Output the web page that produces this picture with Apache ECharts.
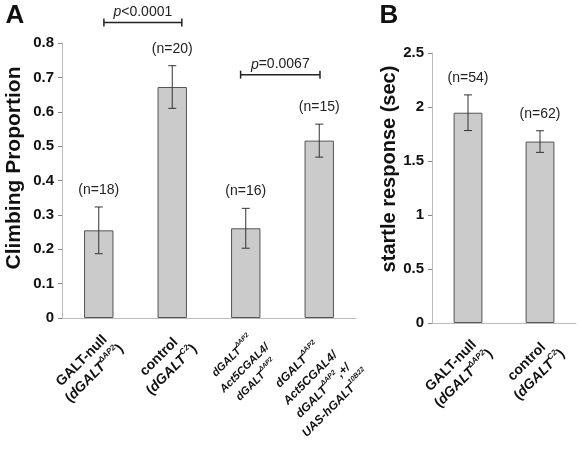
<!DOCTYPE html>
<html><head><meta charset="utf-8">
<script src="https://cdn.jsdelivr.net/npm/echarts@6/dist/echarts.min.js"></script>
<style>html,body{margin:0;padding:0;background:#fff}#c{width:582px;height:452px}</style>
</head><body><div id="c"></div>
<script>
// ---------- data ----------
const categoriesA = [
  '{n|GALT-null}\n{n|(}{i|dGALT}{s|ΔAP2}{n|)}',
  '{n|control}\n{n|(}{i|dGALT}{s|C2}{n|)}',
  '{k|dGALT}{ks|ΔAP2}\n{k|Act5CGAL4/}\n{k|dGALT}{ks|ΔAP2}',
  '{m|dGALT}{ms|ΔAP2}\n{m|Act5CGAL4/}\n{m|dGALT}{ms|ΔAP2}{m|,+/}\n{m|UAS-hGALT}{ms|10B22}'
];
const meansA = [0.255, 0.672, 0.261, 0.516];
const errorsA = [0.068, 0.062, 0.058, 0.048];
const nLabelsA = ['(n=18)', '(n=20)', '(n=16)', '(n=15)'];
const yTicksA = ['0', '0.1', '0.2', '0.3', '0.4', '0.5', '0.6', '0.7', '0.8'];

const categoriesB = [
  '{n|GALT-null}\n{n|(}{i|dGALT}{s|ΔAP2}{n|)}',
  '{n|control}\n{n|(}{i|dGALT}{s|C2}{n|)}'
];
const meansB = [1.947, 1.68];
const errorsB = [0.165, 0.10];
const nLabelsB = ['(n=54)', '(n=62)'];
const yTicksB = ['0', '0.5', '1', '1.5', '2', '2.5'];

// significance brackets: [fromCategory, level, toCategory]
const bracketsA = [[0, 0.86, 1], [2, 0.708, 3]];
const bracketTextsA = ['p<0.0001', 'p=0.0067'];

// ---------- styling ----------
const FF = '"Liberation Sans", Arial, Helvetica, sans-serif';
const TXT = '#111';
const bracketOffsets = [[0.07, 0.13], [-0.07, 0.01]];

const rich = {
  n: {fontFamily: FF, fontWeight: 'bold', fontSize: 14, lineHeight: 18, align: 'center', color: TXT},
  i: {fontFamily: FF, fontWeight: 'bold', fontStyle: 'italic', fontSize: 14, lineHeight: 18, align: 'center', color: TXT},
  s: {fontFamily: FF, fontWeight: 'bold', fontStyle: 'italic', fontSize: 8, lineHeight: 10, verticalAlign: 'top', align: 'center', color: TXT},
  m: {fontFamily: FF, fontWeight: 'bold', fontStyle: 'italic', fontSize: 12, lineHeight: 18, align: 'center', color: TXT},
  ms: {fontFamily: FF, fontWeight: 'bold', fontStyle: 'italic', fontSize: 7, lineHeight: 9, verticalAlign: 'top', align: 'center', color: TXT},
  k: {fontFamily: FF, fontWeight: 'bold', fontStyle: 'italic', fontSize: 11, lineHeight: 17, align: 'center', color: TXT},
  ks: {fontFamily: FF, fontWeight: 'bold', fontStyle: 'italic', fontSize: 6.5, lineHeight: 8, verticalAlign: 'top', align: 'center', color: TXT}
};

function errorRenderer(nLabels) {
  return function (params, api) {
    const i = api.value(0), m = api.value(1), e = api.value(2);
    const top = api.coord([i, m + e]);
    const bot = api.coord([i, m - e]);
    const hw = 4;
    const st = {stroke: '#333', lineWidth: 1};
    return {
      type: 'group',
      children: [
        {type: 'line', shape: {x1: top[0], y1: top[1], x2: bot[0], y2: bot[1]}, style: st},
        {type: 'line', shape: {x1: top[0] - hw, y1: top[1], x2: top[0] + hw, y2: top[1]}, style: st},
        {type: 'line', shape: {x1: bot[0] - hw, y1: bot[1], x2: bot[0] + hw, y2: bot[1]}, style: st},
        {type: 'text', style: {text: nLabels[params.dataIndex], x: top[0], y: top[1] - 17,
          align: 'center', verticalAlign: 'middle', fontFamily: FF, fontSize: 14, fill: '#222'}}
      ]
    };
  };
}

function bracketRenderer(params, api) {
  const from = api.value(0), lvl = api.value(1), to = api.value(2);
  const bw = api.size([1, 0])[0];
  const off = bracketOffsets[params.dataIndex];
  const a = api.coord([from, lvl]), b = api.coord([to, lvl]);
  const x1 = a[0] + off[0] * bw, x2 = b[0] + off[1] * bw, y = a[1];
  const st = {stroke: '#222', lineWidth: 1.5};
  const t = bracketTextsA[params.dataIndex];
  return {
    type: 'group',
    children: [
      {type: 'line', shape: {x1: x1, y1: y, x2: x2, y2: y}, style: st},
      {type: 'line', shape: {x1: x1, y1: y - 4, x2: x1, y2: y + 4}, style: st},
      {type: 'line', shape: {x1: x2, y1: y - 4, x2: x2, y2: y + 4}, style: st},
      {type: 'text', style: {text: '{it|' + t.charAt(0) + '}{r|' + t.slice(1) + '}', x: (x1 + x2) / 2, y: y - 10,
        align: 'center', verticalAlign: 'middle',
        rich: {it: {fontFamily: FF, fontSize: 14, fontStyle: 'italic', fill: '#222'}, r: {fontFamily: FF, fontSize: 14, fill: '#222'}}}}
    ]
  };
}

function xAxisCfg(cats, idx) {
  return {
    type: 'category', gridIndex: idx, data: cats,
    axisLine: {lineStyle: {color: '#bbb', width: 1}},
    axisTick: {show: false},
    axisLabel: {interval: 0, rotate: 45, align: 'right', verticalAlign: 'top', margin: 6,
      padding: [5, 0, 0, 0], rich: rich}
  };
}
function yAxisCfg(idx, max, interval, ticks) {
  return {
    type: 'value', gridIndex: idx, min: 0, max: max, interval: interval,
    splitLine: {show: false},
    axisLine: {show: true, lineStyle: {color: '#bbb', width: 1}},
    axisTick: {show: true, length: 4, lineStyle: {color: '#888'}},
    axisLabel: {margin: 8, fontFamily: FF, fontWeight: 'bold', fontSize: 15, color: TXT,
      formatter: function (v) { return ticks[Math.round(v / interval)]; }}
  };
}

const chart = echarts.init(document.getElementById('c'), null, {renderer: 'canvas'});
chart.setOption({
  animation: false,
  backgroundColor: '#fff',
  grid: [
    {left: 62, top: 43, width: 294, height: 275, outerBoundsMode: 'none'},
    {left: 432, top: 53, width: 144, height: 270, outerBoundsMode: 'none'}
  ],
  xAxis: [xAxisCfg(categoriesA, 0), xAxisCfg(categoriesB, 1)],
  yAxis: [yAxisCfg(0, 0.8, 0.1, yTicksA), yAxisCfg(1, 2.5, 0.5, yTicksB)],
  series: [
    {type: 'bar', xAxisIndex: 0, yAxisIndex: 0, data: meansA, barWidth: '40%',
      itemStyle: {color: '#cbcbcb', borderColor: '#555', borderWidth: 1}},
    {type: 'custom', xAxisIndex: 0, yAxisIndex: 0, clip: false, z: 5,
      data: meansA.map((m, i) => [i, m, errorsA[i]]), renderItem: errorRenderer(nLabelsA)},
    {type: 'custom', xAxisIndex: 0, yAxisIndex: 0, clip: false, z: 5,
      data: bracketsA, renderItem: bracketRenderer},
    {type: 'bar', xAxisIndex: 1, yAxisIndex: 1, data: meansB, barWidth: '40%',
      itemStyle: {color: '#cbcbcb', borderColor: '#555', borderWidth: 1}},
    {type: 'custom', xAxisIndex: 1, yAxisIndex: 1, clip: false, z: 5,
      data: meansB.map((m, i) => [i, m, errorsB[i]]), renderItem: errorRenderer(nLabelsB)}
  ],
  graphic: [
    {type: 'text', x: 15, y: 16, style: {text: 'A', font: 'bold 26px ' + FF, fill: '#111', align: 'center', verticalAlign: 'middle'}},
    {type: 'text', x: 389, y: 16, style: {text: 'B', font: 'bold 26px ' + FF, fill: '#111', align: 'center', verticalAlign: 'middle'}},
    {type: 'text', x: 14, y: 168, rotation: Math.PI / 2, style: {text: 'Climbing Proportion', font: 'bold 21px ' + FF, fill: '#111', align: 'center', verticalAlign: 'middle'}},
    {type: 'text', x: 389, y: 169, rotation: Math.PI / 2, style: {text: 'startle response (sec)', font: 'bold 20px ' + FF, fill: '#111', align: 'center', verticalAlign: 'middle'}}
  ]
});
</script>
</body></html>
